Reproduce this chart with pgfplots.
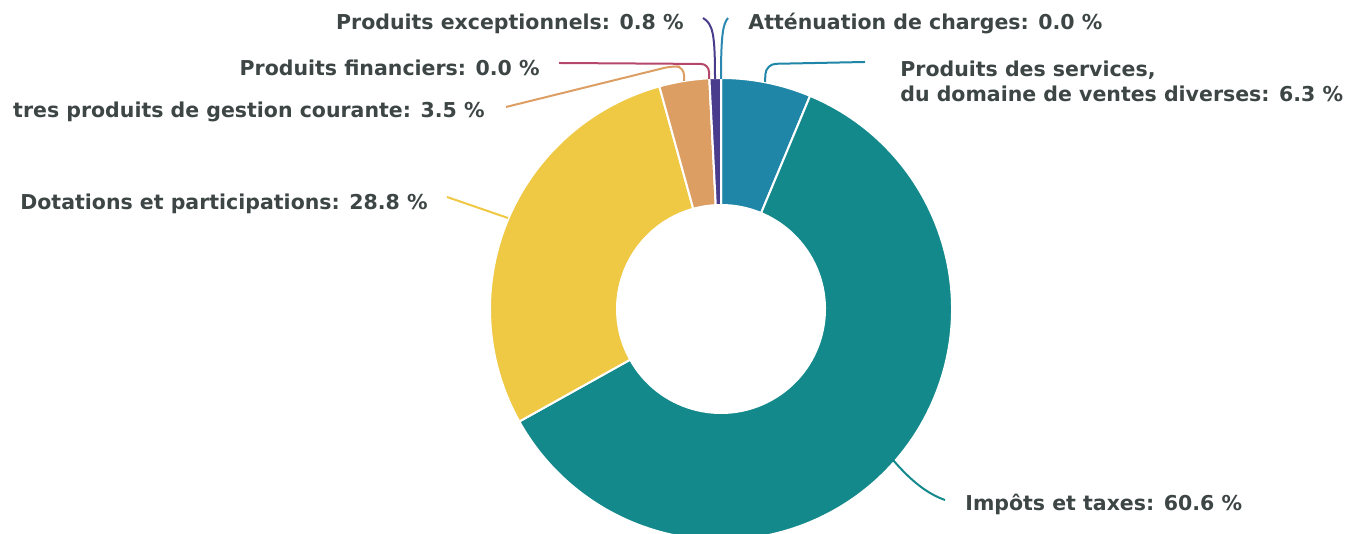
\documentclass[border=0pt]{standalone}
\usepackage{pgfplots}
\pgfplotsset{compat=1.18}
\usepackage{pgfplotstable}
\usepackage{fontspec}
\setmainfont{DejaVu Sans}
\definecolor{cServ}{HTML}{1F86A8}
\definecolor{cImp}{HTML}{13898B}
\definecolor{cDot}{HTML}{EFC844}
\definecolor{cAut}{HTML}{DC9E62}
\definecolor{cFin}{HTML}{B5476A}
\definecolor{cExc}{HTML}{4A3C8C}
\definecolor{cAtt}{HTML}{2A88B0}
\definecolor{txt}{HTML}{3D4545}

\pgfplotstableread[col sep=comma]{
label,pct
Services,6.3
Impots,60.6
Dotations,28.8
Autres,3.5
Financiers,0.0
Exceptionnels,0.8
Attenuation,0.0
}\datatable

\begin{document}
\begin{tikzpicture}
\gdef\cum{0}
\pgfplotstableforeachcolumnelement{pct}\of\datatable\as\p{%
  \pgfmathsetmacro\newcum{\cum+\p}%
  \pgfmathsetmacro\angS{90-3.6*\cum}%
  \pgfmathsetmacro\angE{90-3.6*\newcum}%
  \expandafter\xdef\csname as\pgfplotstablerow\endcsname{\angS}%
  \expandafter\xdef\csname ae\pgfplotstablerow\endcsname{\angE}%
  \xdef\cum{\newcum}}
\newcommand\slice[2]{%
 \fill[#2, draw=white, line width=1pt]
   ([shift={(\csname as#1\endcsname:115.5pt)}]axis cs:721,225)
   arc[start angle=\csname as#1\endcsname, end angle=\csname ae#1\endcsname, radius=115.5pt]
   -- ([shift={(\csname ae#1\endcsname:52pt)}]axis cs:721,225)
   arc[start angle=\csname ae#1\endcsname, end angle=\csname as#1\endcsname, radius=52pt] -- cycle;}
\useasboundingbox (0,0) rectangle (672.5pt,267pt);
\clip (0,0) rectangle (672.5pt,267pt);
\begin{axis}[at={(0,0)}, anchor=south west, scale only axis,
  width=672.5pt, height=267pt, xmin=0, xmax=1345, ymin=0, ymax=534,
  hide axis, clip=false]
\slice{0}{cServ}
\slice{1}{cImp}
\slice{2}{cDot}
\slice{3}{cAut}
\slice{4}{cFin}
\slice{5}{cExc}
\slice{6}{cAtt}
% leader lines
\draw[cServ, line width=1pt, rounded corners=5pt] (axis cs:765,452) -- (axis cs:766,470) -- (axis cs:865,472);
\draw[cImp, line width=1pt] (axis cs:893,74) .. controls (axis cs:912,52) and (axis cs:928,40) .. (axis cs:945,34);
\draw[cDot, line width=1pt] (axis cs:508,316) -- (axis cs:447,337);
\draw[cAut, line width=1pt, rounded corners=4pt] (axis cs:684,453) -- (axis cs:684,467) -- (axis cs:672,468) -- (axis cs:506,427);
\draw[cFin, line width=1pt, rounded corners=4pt] (axis cs:709,455) -- (axis cs:709,470) -- (axis cs:559,471);
\draw[cExc, line width=1pt] (axis cs:715,455) .. controls (axis cs:715,500) and (axis cs:713,510) .. (axis cs:703,516);
\draw[cAtt, line width=1pt] (axis cs:721,455) .. controls (axis cs:721,500) and (axis cs:723,510) .. (axis cs:728,516);
% labels
\begin{scope}[every node/.style={inner sep=0pt, text=txt, font=\fontsize{10.25pt}{12.5pt}\selectfont\bfseries}]
\node[anchor=base east] at (axis cs:684,504) {Produits exceptionnels: 0.8 \%};
\node[anchor=base west] at (axis cs:748,504) {Atténuation de charges: 0.0 \%};
\node[anchor=base east] at (axis cs:540,458) {Produits financiers: 0.0 \%};
\node[anchor=base east] at (axis cs:485,416) {tres produits de gestion courante: 3.5 \%};
\node[anchor=base east] at (axis cs:428,324) {Dotations et participations: 28.8 \%};
\node[anchor=base west] at (axis cs:900,457) {Produits des services,};
\node[anchor=base west] at (axis cs:900,432) {du domaine de ventes diverses: 6.3 \%};
\node[anchor=base west] at (axis cs:965,23) {Impôts et taxes: 60.6 \%};
\end{scope}
\end{axis}
\end{tikzpicture}
\end{document}
